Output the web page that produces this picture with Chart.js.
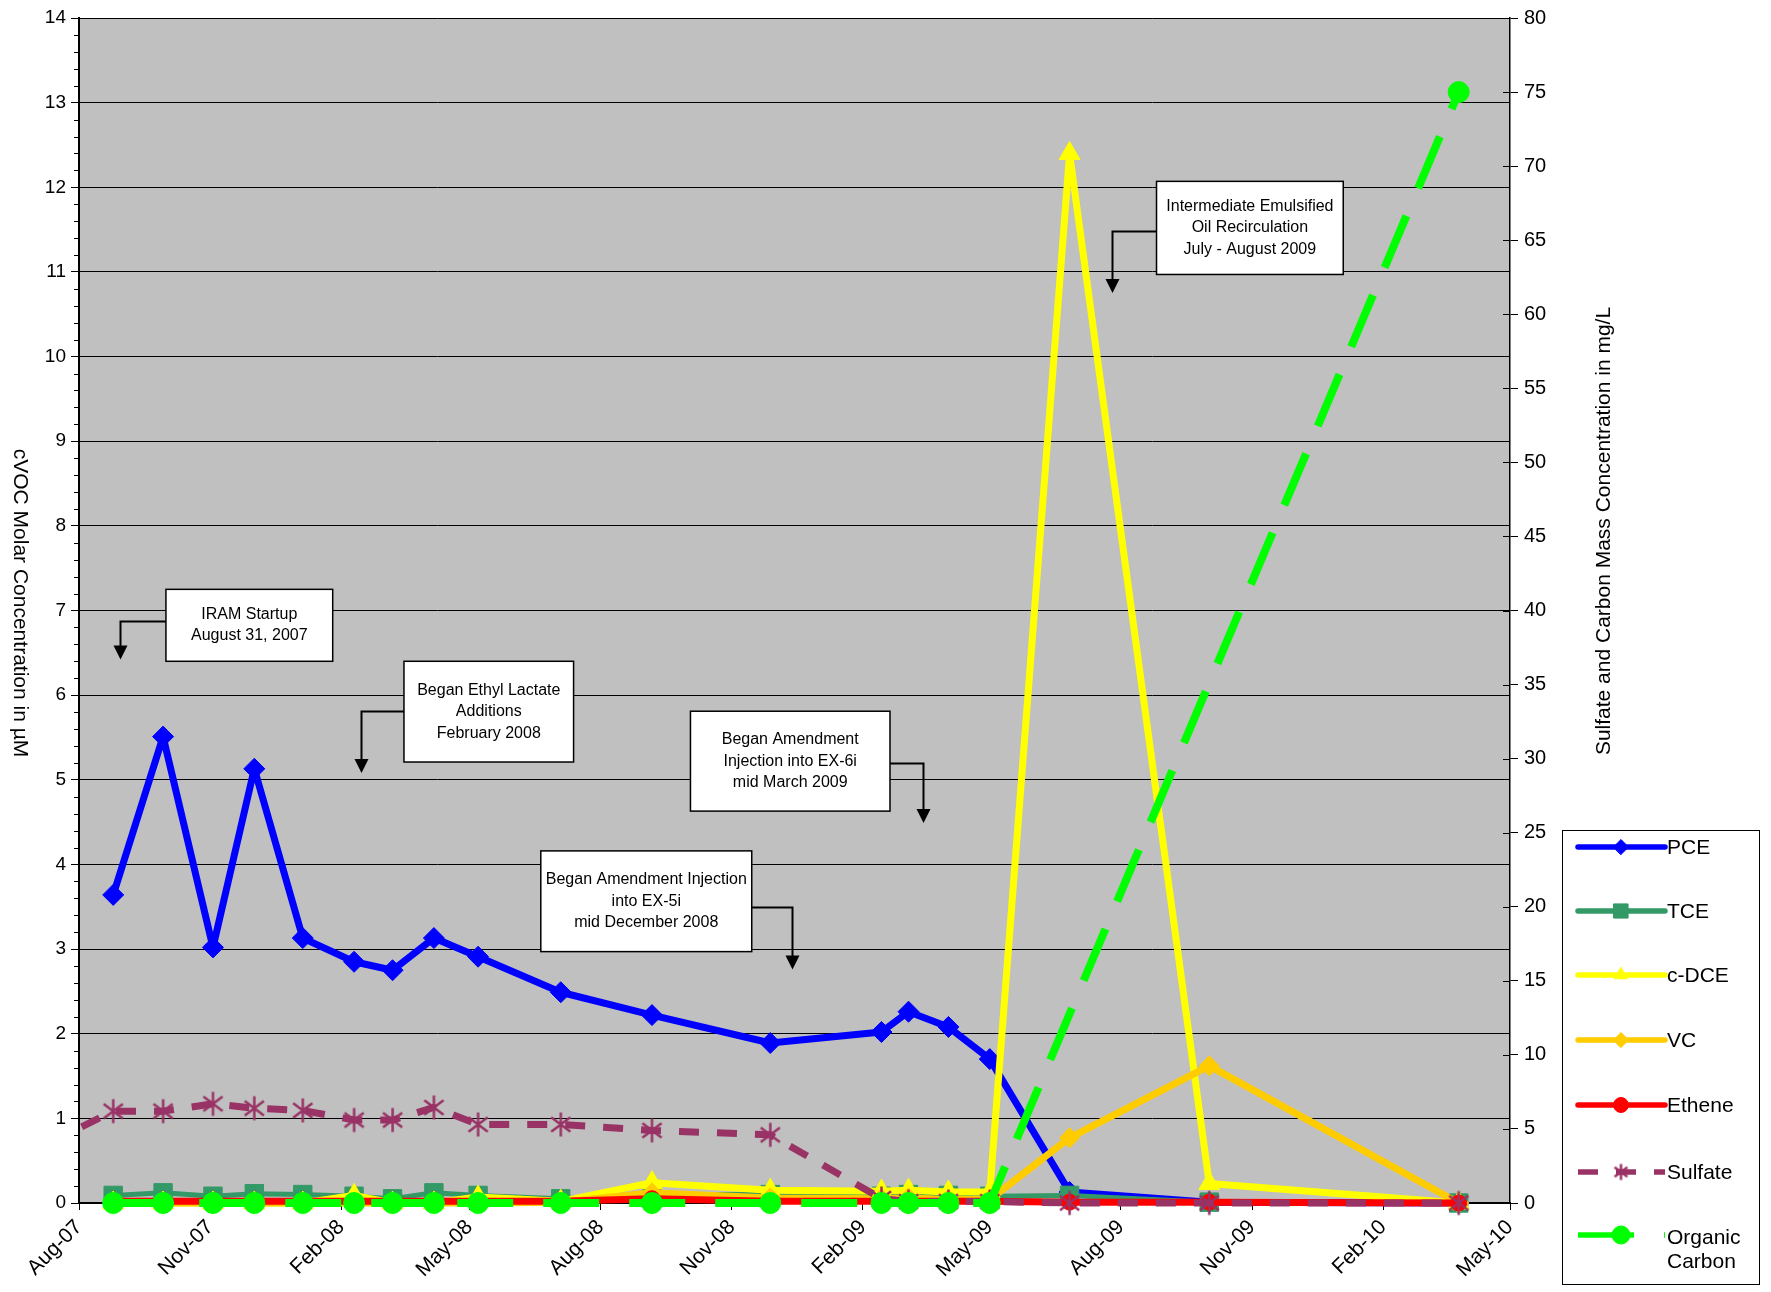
<!DOCTYPE html>
<html>
<head>
<meta charset="utf-8">
<title>cVOC, Sulfate and Organic Carbon Concentrations</title>
<script src="https://cdn.jsdelivr.net/npm/chart.js@4.4.1/dist/chart.umd.min.js"></script>
<style>
  html, body { margin: 0; padding: 0; background: #ffffff; }
  #wrap { position: relative; width: 1771px; height: 1292px; }
</style>
</head>
<body>
<div id="wrap"><canvas id="chart"></canvas></div>
<script>
// ---- sample dates and measured concentrations ----
const sampleDates = ['2007-08-25', '2007-09-29', '2007-11-03', '2007-12-02', '2008-01-05',
  '2008-02-10', '2008-03-08', '2008-04-06', '2008-05-07', '2008-07-04', '2008-09-06',
  '2008-11-28', '2009-02-14', '2009-03-05', '2009-04-02', '2009-05-01', '2009-06-26',
  '2009-10-02', '2010-03-26'];

// cVOCs in µM (left axis)
const pce    = [3.64, 5.51, 3.02, 5.13, 3.13, 2.85, 2.75, 3.13, 2.91, 2.49, 2.22, 1.89, 2.02, 2.26, 2.08, 1.70, 0.13, 0.01, 0.00];
const tce    = [0.09, 0.12, 0.08, 0.11, 0.10, 0.08, 0.05, 0.12, 0.09, 0.05, 0.10, 0.10, 0.08, 0.10, 0.09, 0.08, 0.09, 0.01, 0.00];
const cdce   = [0.00, 0.00, 0.00, 0.00, 0.00, 0.09, 0.00, 0.00, 0.07, 0.02, 0.24, 0.15, 0.14, 0.15, 0.13, 0.13, 12.40, 0.23, 0.00];
const vc     = [0.00, 0.00, 0.00, 0.00, 0.00, 0.00, 0.00, 0.00, 0.00, 0.01, 0.12, 0.06, 0.05, 0.06, 0.04, 0.04, 0.77, 1.62, 0.00];
const ethene = [0.02, 0.02, 0.02, 0.02, 0.02, 0.02, 0.02, 0.02, 0.02, 0.02, 0.05, 0.02, 0.02, 0.02, 0.02, 0.02, 0.01, 0.01, 0.00];

// Sulfate and organic carbon in mg/L (right axis)
const sulfateDates = ['2007-07-10'].concat(sampleDates);
const sulfate = [4.0, 6.2, 6.2, 6.7, 6.4, 6.25, 5.6, 5.6, 6.45, 5.3, 5.3, 4.9, 4.6, 0.3, 0.1, 0.1, 0.1, 0.0, 0.0, 0.0];
const organicCarbon = [0, 0, 0, 0, 0, 0, 0, 0, 0, 0, 0, 0, 0, 0, 0, 0, null, null, 75];

// ---- axis ticks ----
const xTickDates  = ['2007-08-01', '2007-11-01', '2008-02-01', '2008-05-01', '2008-08-01', '2008-11-01',
  '2009-02-01', '2009-05-01', '2009-08-01', '2009-11-01', '2010-02-01', '2010-05-01'];
const xTickLabels = ['Aug-07', 'Nov-07', 'Feb-08', 'May-08', 'Aug-08', 'Nov-08',
  'Feb-09', 'May-09', 'Aug-09', 'Nov-09', 'Feb-10', 'May-10'];

const leftTitle  = 'cVOC Molar Concentration in µM';
const rightTitle = 'Sulfate and Carbon Mass Concentration in mg/L';

// ---- event call-outs (box corners and arrow in axis units: date, µM) ----
const callouts = [
  { text: ['IRAM Startup', 'August 31, 2007'],
    box: ['2007-10-01', '2008-01-26', 7.25, 6.40], side: 'left', elbow: 6.88, arrowAt: '2007-08-30', tip: 6.42 },
  { text: ['Began Ethyl Lactate', 'Additions', 'February 2008'],
    box: ['2008-03-16', '2008-07-13', 6.40, 5.21], side: 'left', elbow: 5.81, arrowAt: '2008-02-15', tip: 5.08 },
  { text: ['Began Amendment', 'Injection into EX-6i', 'mid March 2009'],
    box: ['2008-10-03', '2009-02-20', 5.81, 4.63], side: 'right', elbow: 5.20, arrowAt: '2009-03-15', tip: 4.49 },
  { text: ['Began Amendment Injection', 'into EX-5i', 'mid December 2008'],
    box: ['2008-06-20', '2008-11-15', 4.16, 2.97], side: 'right', elbow: 3.50, arrowAt: '2008-12-13', tip: 2.76 },
  { text: ['Intermediate Emulsified', 'Oil Recirculation', 'July - August 2009'],
    box: ['2009-08-26', '2010-01-04', 12.07, 10.97], side: 'left', elbow: 11.48, arrowAt: '2009-07-26', tip: 10.75 }
];

// ---- helpers ----
const FONT = '"Liberation Sans", Arial, Helvetica, sans-serif';
function toMs(s) {
  const p = s.split('-').map(Number);
  return Date.UTC(p[0], p[1] - 1, p[2]);
}
function series(dates, values) {
  return dates.map((d, i) => ({ x: toMs(d), y: values[i] }));
}

// asterisk marker: vertical bar crossed by an X
function asteriskMarker(r, color, lw) {
  const size = Math.ceil(2 * r + lw + 2);
  const cv = document.createElement('canvas');
  cv.width = size;
  cv.height = size;
  const g = cv.getContext('2d');
  const c = size / 2;
  g.strokeStyle = color;
  g.lineWidth = lw;
  g.lineCap = 'butt';
  g.beginPath();
  g.moveTo(c, c - r); g.lineTo(c, c + r);
  const d = r * 0.8;
  g.moveTo(c - d, c - d * 0.75); g.lineTo(c + d, c + d * 0.75);
  g.moveTo(c - d, c + d * 0.75); g.lineTo(c + d, c - d * 0.75);
  g.stroke();
  return cv;
}

Chart.defaults.font.family = FONT;
Chart.defaults.color = '#000000';

const clipZero = { left: 0, top: 12, right: 14, bottom: 16 };

function lineSet(label, dates, values, color, opts) {
  return Object.assign({
    label: label,
    data: series(dates, values),
    borderColor: color,
    backgroundColor: color,
    pointBackgroundColor: color,
    pointBorderColor: color,
    pointBorderWidth: 1,
    borderWidth: 7,
    borderJoinStyle: 'round',
    borderCapStyle: 'round',
    tension: 0,
    yAxisID: 'y',
    clip: clipZero
  }, opts);
}

const sulfateColor = '#993366';
const sulfateMarker = asteriskMarker(12, sulfateColor, 2.5);
const sulfateLegendMarker = asteriskMarker(8, sulfateColor, 2.5);

const datasets = [
  lineSet('PCE', sampleDates, pce, '#0000FF', { pointStyle: 'rectRot', pointRadius: 10.5, order: 7 }),
  lineSet('TCE', sampleDates, tce, '#339966', { pointStyle: 'rect', pointRadius: 13, borderWidth: 5, order: 6 }),
  lineSet('c-DCE', sampleDates, cdce, '#FFFF00', { pointStyle: 'triangle', pointRadius: 12, order: 5 }),
  lineSet('VC', sampleDates, vc, '#FFCC00', { pointStyle: 'rectRot', pointRadius: 10, order: 4 }),
  lineSet('Ethene', sampleDates, ethene, '#FF0000', { pointStyle: 'circle', pointRadius: 8, order: 3 }),
  lineSet('Sulfate', sulfateDates, sulfate, sulfateColor, {
    pointStyle: sulfateMarker, pointRadius: 12, borderWidth: 7,
    borderDash: [20, 18], borderCapStyle: 'butt', yAxisID: 'y1', order: 2,
    clip: { left: 8, top: 12, right: 14, bottom: 16 }
  }),
  lineSet('Organic Carbon', sampleDates, organicCarbon, '#00FF00', {
    pointStyle: 'circle', pointRadius: 10.5, borderWidth: 8, borderDash: [56, 30],
    borderCapStyle: 'butt', yAxisID: 'y1', spanGaps: true, order: 1
  })
];

// Plot background, frame and extra tick marks
const framePlugin = {
  id: 'frame',
  beforeDraw(chart) {
    const { ctx, chartArea: a } = chart;
    ctx.save();
    ctx.fillStyle = '#FFFFFF';
    ctx.fillRect(0, 0, chart.width, chart.height);
    ctx.fillStyle = '#C0C0C0';
    ctx.fillRect(a.left, a.top, a.right - a.left, a.bottom - a.top);
    ctx.strokeStyle = '#808080';
    ctx.lineWidth = 1;
    ctx.strokeRect(a.left + 0.5, a.top + 0.5, a.right - a.left - 1, a.bottom - a.top - 1);
    ctx.restore();
  },
  afterDraw(chart) {
    const { ctx, chartArea: a, scales } = chart;
    ctx.save();
    ctx.strokeStyle = '#000000';
    ctx.lineWidth = 1;
    // minor ticks on the µM axis
    for (let v = 0; v <= 14.001; v += 0.2) {
      if (Math.abs(v - Math.round(v)) < 1e-6) continue;
      const py = Math.round(scales.y.getPixelForValue(v)) + 0.5;
      ctx.beginPath();
      ctx.moveTo(a.left - 5, py);
      ctx.lineTo(a.left, py);
      ctx.stroke();
    }
    // inner half of the mg/L axis ticks
    scales.y1.ticks.forEach(t => {
      const py = Math.round(scales.y1.getPixelForValue(t.value)) + 0.5;
      ctx.beginPath();
      ctx.moveTo(a.right - 7, py);
      ctx.lineTo(a.right, py);
      ctx.stroke();
    });
    ctx.restore();
  }
};

// Call-out boxes with elbow arrows
const calloutPlugin = {
  id: 'callouts',
  afterDatasetsDraw(chart) {
    const { ctx, scales: { x, y } } = chart;
    ctx.save();
    callouts.forEach(c => {
      const x1 = x.getPixelForValue(toMs(c.box[0]));
      const x2 = x.getPixelForValue(toMs(c.box[1]));
      const y1 = y.getPixelForValue(c.box[2]);
      const y2 = y.getPixelForValue(c.box[3]);
      const ax = Math.round(x.getPixelForValue(toMs(c.arrowAt))) + 0.5;
      const ey = Math.round(y.getPixelForValue(c.elbow)) + 0.5;
      const ty = y.getPixelForValue(c.tip);
      const sx = c.side === 'left' ? x1 : x2;
      ctx.strokeStyle = '#000000';
      ctx.fillStyle = '#000000';
      ctx.lineWidth = 2;
      ctx.beginPath();
      ctx.moveTo(sx, ey);
      ctx.lineTo(ax, ey);
      ctx.lineTo(ax, ty - 12);
      ctx.stroke();
      ctx.beginPath();
      ctx.moveTo(ax - 7, ty - 14);
      ctx.lineTo(ax + 7, ty - 14);
      ctx.lineTo(ax, ty);
      ctx.closePath();
      ctx.fill();

      ctx.fillStyle = '#FFFFFF';
      ctx.fillRect(x1, y1, x2 - x1, y2 - y1);
      ctx.lineWidth = 1.5;
      ctx.strokeStyle = '#000000';
      ctx.strokeRect(x1, y1, x2 - x1, y2 - y1);

      ctx.fillStyle = '#000000';
      ctx.font = '16px ' + FONT;
      ctx.textAlign = 'center';
      ctx.textBaseline = 'middle';
      const lh = 21.5;
      const cy = (y1 + y2) / 2;
      const cx = (x1 + x2) / 2;
      c.text.forEach((t, i) => {
        ctx.fillText(t, cx, cy + (i - (c.text.length - 1) / 2) * lh);
      });
    });
    ctx.restore();
  }
};

// Axis titles and the legend panel
const sidePlugin = {
  id: 'sidePanel',
  afterDraw(chart) {
    const { ctx } = chart;
    ctx.save();
    ctx.fillStyle = '#000000';
    ctx.font = '21px ' + FONT;
    ctx.textAlign = 'center';
    ctx.textBaseline = 'middle';
    ctx.save();
    ctx.translate(20, 603);
    ctx.rotate(Math.PI / 2);
    ctx.fillText(leftTitle, 0, 0);
    ctx.restore();
    ctx.save();
    ctx.translate(1604, 531);
    ctx.rotate(-Math.PI / 2);
    ctx.fillText(rightTitle, 0, 0);
    ctx.restore();

    // legend frame
    const L = { left: 1562, top: 830, right: 1759, bottom: 1284 };
    ctx.fillStyle = '#FFFFFF';
    ctx.fillRect(L.left, L.top, L.right - L.left, L.bottom - L.top);
    ctx.strokeStyle = '#000000';
    ctx.lineWidth = 1;
    ctx.strokeRect(L.left + 0.5, L.top + 0.5, L.right - L.left, L.bottom - L.top);

    const rowY = [847, 911, 975, 1040, 1105, 1172, 1235];
    const sx1 = 1578, sx2 = 1665, mx = 1621, tx = 1667;
    chart.data.datasets.forEach((ds, i) => {
      const yy = rowY[i];
      ctx.save();
      ctx.strokeStyle = ds.borderColor;
      ctx.lineWidth = 5.5;
      ctx.setLineDash(ds.borderDash || []);
      ctx.lineCap = ds.borderDash ? 'butt' : 'round';
      ctx.beginPath();
      ctx.moveTo(sx1, yy);
      ctx.lineTo(sx2, yy);
      ctx.stroke();
      ctx.setLineDash([]);
      if (typeof ds.pointStyle === 'string') {
        ctx.fillStyle = ds.pointBackgroundColor;
        ctx.strokeStyle = ds.pointBorderColor;
        ctx.lineWidth = 1;
        Chart.helpers.drawPoint(ctx, {
          pointStyle: ds.pointStyle,
          radius: ds.pointStyle === 'rect' ? 10 : (ds.pointStyle === 'circle' && i === 6 ? 9 : 7.5),
          rotation: 0,
          borderWidth: 1
        }, mx, yy);
      } else {
        const m = sulfateLegendMarker;
        ctx.drawImage(m, mx - m.width / 2, yy - m.height / 2);
      }
      ctx.restore();

      ctx.fillStyle = '#000000';
      ctx.font = '21px ' + FONT;
      ctx.textAlign = 'left';
      ctx.textBaseline = 'middle';
      // wrap labels that are wider than the panel
      const words = ds.label.split(' ');
      const lines = [];
      let cur = '';
      words.forEach(w => {
        const test = cur ? cur + ' ' + w : w;
        if (cur && ctx.measureText(test).width > L.right - tx - 4) {
          lines.push(cur);
          cur = w;
        } else {
          cur = test;
        }
      });
      lines.push(cur);
      lines.forEach((t, k) => {
        const off = lines.length > 1 ? 3 + k * 24 : 1;
        ctx.fillText(t, tx, yy + off);
      });
    });
    ctx.restore();
  }
};

new Chart(document.getElementById('chart'), {
  type: 'line',
  data: { datasets: datasets },
  plugins: [framePlugin, calloutPlugin, sidePlugin],
  options: {
    responsive: true,
    maintainAspectRatio: false,
    animation: false,
    events: [],
    layout: { padding: { top: 15, left: 0, right: 0, bottom: 0 } },
    plugins: {
      legend: { display: false },
      tooltip: { enabled: false },
      title: { display: false }
    },
    scales: {
      x: {
        type: 'linear',
        position: 'bottom',
        min: toMs(xTickDates[0]),
        max: toMs(xTickDates[xTickDates.length - 1]),
        afterBuildTicks: s => { s.ticks = xTickDates.map(d => ({ value: toMs(d) })); },
        ticks: {
          autoSkip: false,
          maxRotation: 45,
          minRotation: 45,
          padding: 5,
          color: '#000000',
          font: { size: 21 },
          callback: (v, i) => xTickLabels[i]
        },
        grid: { drawOnChartArea: false, color: '#000000', tickLength: 7 },
        border: { color: '#000000', width: 2 },
        afterFit: s => { s.height = 89; }
      },
      y: {
        position: 'left',
        min: 0,
        max: 14,
        ticks: { stepSize: 1, color: '#000000', font: { size: 19 }, padding: 5 },
        grid: { color: '#000000', lineWidth: 1, tickLength: 8 },
        border: { color: '#000000', width: 2 },
        afterFit: s => { s.width = 79; }
      },
      y1: {
        position: 'right',
        min: 0,
        max: 80,
        ticks: { stepSize: 5, color: '#000000', font: { size: 20 }, padding: 6 },
        grid: { drawOnChartArea: false, color: '#000000', tickLength: 8 },
        border: { color: '#000000', width: 1.5 },
        afterFit: s => { s.width = 261; }
      }
    }
  }
});
</script>
</body>
</html>
